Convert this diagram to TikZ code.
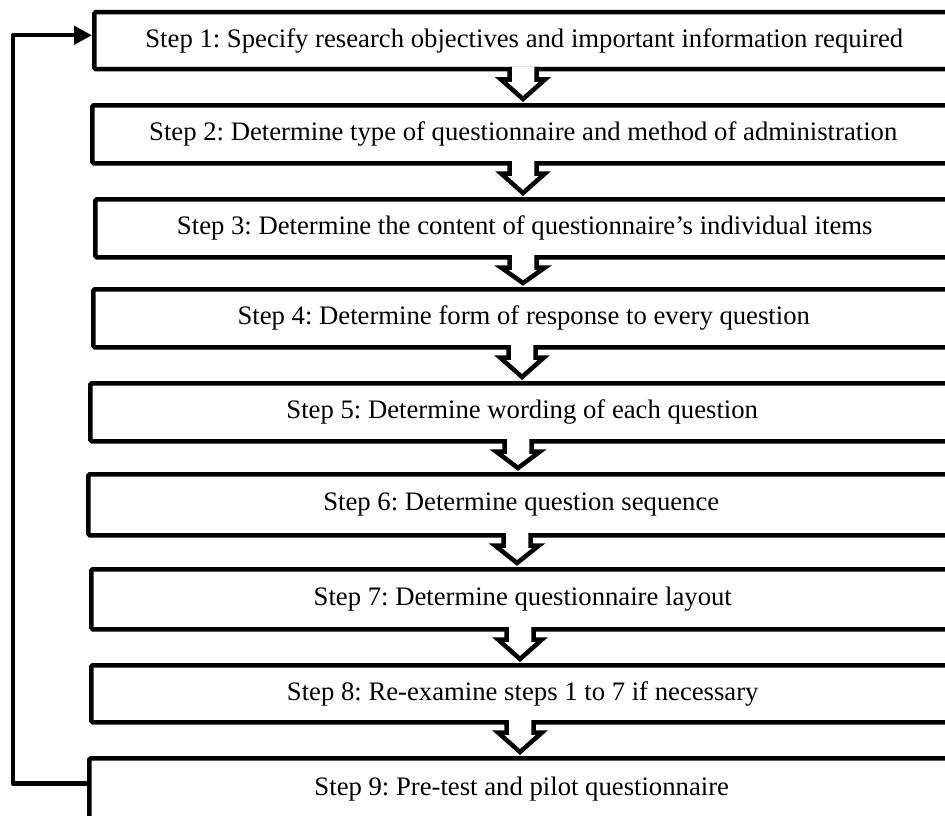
\documentclass[tikz,border=0pt]{standalone}
\usepackage{fontspec}
\setmainfont{Liberation Serif}
\usetikzlibrary{arrows.meta,calc}
\frenchspacing
\begin{document}
\begin{tikzpicture}[x=1pt,y=-1pt,
  stepbox/.style={draw, line width=4.5pt, rounded corners=1.5pt, fill=white,
    anchor=north west, inner sep=0pt, align=center,
    font=\fontsize{26.7}{30}\selectfont},
  barrow/.style={draw, line width=4.5pt, fill=white, line join=miter, miter limit=4},
  fb/.style={draw, line width=4.5pt, line join=round,
    -{Triangle[length=18pt,width=18pt]}}]
\useasboundingbox (0,0) rectangle (945,816);
\clip (0,0) rectangle (945,816);
\fill[white] (0,0) rectangle (945,816);

% the nine steps
\node[stepbox, minimum width=860, minimum height=57] (b1) at (92,10)
  {Step 1: Specify research objectives and important information required};
\node[stepbox, minimum width=862, minimum height=58] (b2) at (90,103)
  {Step 2: Determine type of questionnaire and method of administration};
\node[stepbox, minimum width=859, minimum height=58] (b3) at (93,197)
  {Step 3: Determine the content of questionnaire’s individual items};
\node[stepbox, minimum width=861, minimum height=58] (b4) at (91,287)
  {Step 4: Determine form of response to every question};
\node[stepbox, minimum width=864, minimum height=58] (b5) at (88,381)
  {Step 5: Determine wording of each question};
\node[stepbox, minimum width=866, minimum height=61] (b6) at (86,472)
  {Step 6: Determine question sequence};
\node[stepbox, minimum width=863, minimum height=60] (b7) at (89,567)
  {Step 7: Determine questionnaire layout};
\node[stepbox, minimum width=863, minimum height=57] (b8) at (89,663)
  {Step 8: Re-examine steps 1 to 7 if necessary};
\node[stepbox, minimum width=865, minimum height=62] (b9) at (87,756)
  {Step 9: Pre-test and pilot questionnaire};

% hollow block arrows from one step to the next
\newcommand\stepflow[3]{%
  \fill[white] let \p1=(#1.south) in
    (#3pt-13.5pt,\y1+4pt) rectangle (#3pt+13.5pt,\y1-8pt);
  \path[barrow] let \p1=(#1.south), \p2=(#2.north) in
    (#3pt-13.5pt,\y1+4.5pt) -- (#3pt-13.5pt,\y1-8pt) -- (#3pt-22pt,\y1-8pt)
    -- (#3pt,\y2+4pt) -- (#3pt+22pt,\y1-8pt) -- (#3pt+13.5pt,\y1-8pt)
    -- (#3pt+13.5pt,\y1+4.5pt);}
\stepflow{b1}{b2}{523}
\stepflow{b2}{b3}{523}
\stepflow{b3}{b4}{523}
\stepflow{b4}{b5}{522}
\stepflow{b5}{b6}{518}
\stepflow{b6}{b7}{517}
\stepflow{b7}{b8}{520}
\stepflow{b8}{b9}{520}

% feedback loop from step 9 back to step 1
\draw[fb] ([yshift=6pt]b9.west) -- ++(-74,0) |- ([yshift=5.5pt]b1.west);
\end{tikzpicture}
\end{document}
